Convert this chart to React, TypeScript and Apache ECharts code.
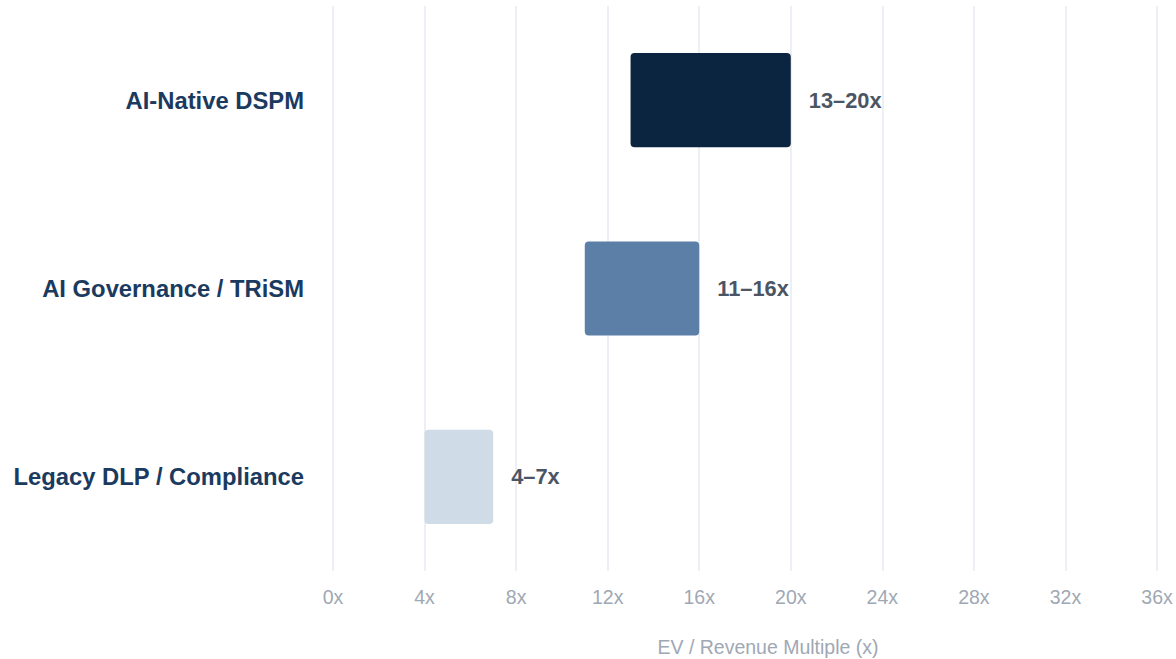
import React, { useEffect, useRef } from "react";
import * as echarts from "echarts";

const categories = ["AI-Native DSPM", "AI Governance / TRiSM", "Legacy DLP / Compliance"];
const lowValues = [13, 11, 4];
const highValues = [20, 16, 7];
const rangeLabels = ["13–20x", "11–16x", "4–7x"];
const barColors = ["#0b2540", "#5b7fa6", "#cfdbe7"];
const xTicks = [0, 4, 8, 12, 16, 20, 24, 28, 32, 36];

export default function App() {
  const ref = useRef<HTMLDivElement>(null);
  useEffect(() => {
    if (!ref.current) return;
    const chart = echarts.init(ref.current, undefined, { renderer: "svg" });
    const font = "'Liberation Sans', Arial, sans-serif";
    chart.setOption({
      animation: false,
      textStyle: { fontFamily: font },
      grid: { left: 333, right: 19, top: 6, bottom: 88, containLabel: false, outerBoundsMode: "none" },
      xAxis: {
        type: "value",
        min: xTicks[0],
        max: xTicks[xTicks.length - 1],
        interval: 4,
        axisLine: { show: false },
        axisTick: { show: false },
        axisLabel: {
          color: "#a0a8b4",
          fontSize: 19.5,
          margin: 16,
          fontFamily: font,
          formatter: (v: number) => `${v}x`,
        },
        splitLine: { show: true, lineStyle: { color: "#eceff3", width: 2 } },
        name: "EV / Revenue Multiple (x)",
        nameLocation: "middle",
        nameGap: 66,
        nameTextStyle: { color: "#a0a8b4", fontSize: 19.5, fontFamily: font, padding: [0, 0, 0, 46] },
      },
      yAxis: {
        type: "category",
        data: categories,
        inverse: true,
        axisLine: { show: false },
        axisTick: { show: false },
        axisLabel: {
          color: "#1b3a60",
          fontSize: 23.8,
          fontWeight: "bold",
          margin: 29,
          fontFamily: font,
        },
        splitLine: { show: false },
      },
      series: [
        {
          type: "bar",
          stack: "range",
          data: lowValues,
          itemStyle: { color: "transparent" },
          barWidth: "50%",
          silent: true,
        },
        {
          type: "bar",
          stack: "range",
          barWidth: "50%",
          data: highValues.map((h, i) => ({
            value: h - lowValues[i],
            itemStyle: { color: barColors[i], borderRadius: 4 },
          })),
          label: {
            show: true,
            position: "right",
            distance: 18,
            color: "#4b5563",
            fontSize: 21.8,
            fontWeight: "bold",
            fontFamily: font,
            formatter: (p: any) => rangeLabels[p.dataIndex],
          },
        },
      ],
    });
    return () => chart.dispose();
  }, []);
  return (
    <div
      ref={ref}
      style={{ position: "fixed", left: 0, top: 0, width: 1176, height: 659, background: "#fff" }}
    />
  );
}
